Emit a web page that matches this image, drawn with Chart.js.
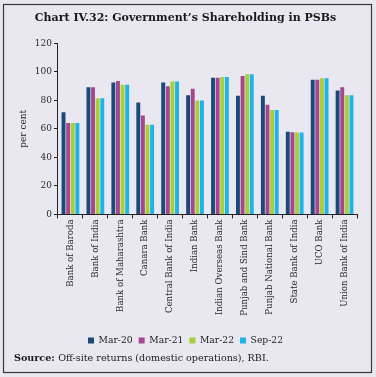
<!DOCTYPE html>
<html>
<head>
<meta charset="utf-8">
<script src="https://cdn.jsdelivr.net/npm/chart.js@4.4.1/dist/chart.umd.min.js"></script>
<style>
  html, body { margin: 0; padding: 0; background: #fff; }
  #wrap { width: 376px; height: 377px; }
</style>
</head>
<body>
<div id="wrap"><canvas id="psbChart" width="376" height="377"></canvas></div>
<script>
const banks = ['Bank of Baroda', 'Bank of India', 'Bank of Maharashtra', 'Canara Bank',
  'Central Bank of India', 'Indian Bank', 'Indian Overseas Bank', 'Punjab and Sind Bank',
  'Punjab National Bank', 'State Bank of India', 'UCO Bank', 'Union Bank of India'];
const mar20 = [71.6, 89.1, 92.5, 78.5, 92.4, 83.6, 95.8, 83.1, 83.2, 57.9, 94.4, 86.8];
const mar21 = [64.0, 89.1, 93.5, 69.3, 89.9, 88.1, 95.8, 97.1, 76.9, 57.6, 94.4, 89.1];
const mar22 = [64.0, 81.4, 90.9, 62.9, 93.1, 79.9, 96.4, 98.3, 73.2, 57.5, 95.4, 83.5];
const sep22 = [64.0, 81.4, 90.9, 62.9, 93.1, 79.9, 96.4, 98.3, 73.2, 57.5, 95.4, 83.5];
const seriesNames = ['Mar-20', 'Mar-21', 'Mar-22', 'Sep-22'];
const seriesColors = ['#1b4a78', '#a5468e', '#a6cf38', '#1eb3ea'];
const yTicks = [0, 20, 40, 60, 80, 100, 120];

const serif = '"DejaVu Serif", "Liberation Serif", serif';

// background, frame and the source note
const framePlugin = {
  id: 'frame',
  beforeDraw(chart) {
    const ctx = chart.ctx;
    ctx.save();
    ctx.fillStyle = '#e9e7ef';
    ctx.fillRect(0, 0, chart.width, chart.height);
    ctx.restore();
  },
  afterDraw(chart) {
    const ctx = chart.ctx;
    ctx.save();
    ctx.strokeStyle = '#3a3a3a';
    ctx.lineWidth = 1.2;
    ctx.strokeRect(3.5, 4.5, 368, 368);
    ctx.fillStyle = '#1a1a1a';
    ctx.font = 'bold 9.6px ' + serif;
    ctx.textBaseline = 'middle';
    const label = 'Source:';
    ctx.fillText(label, 14, 358);
    const w = ctx.measureText(label + ' ').width;
    ctx.font = '9.6px ' + serif;
    ctx.fillText('Off-site returns (domestic operations), RBI.', 14 + w, 358);
    ctx.restore();
  }
};

new Chart(document.getElementById('psbChart'), {
  type: 'bar',
  data: {
    labels: banks,
    datasets: [mar20, mar21, mar22, sep22].map((d, i) => ({
      label: seriesNames[i],
      data: d,
      backgroundColor: seriesColors[i],
      barPercentage: 0.85,
      categoryPercentage: 0.74
    }))
  },
  options: {
    responsive: false,
    animation: false,
    layout: { padding: { left: 14, right: 19, top: 2, bottom: 22 } },
    scales: {
      x: {
        grid: { display: true, drawOnChartArea: false, drawTicks: true, tickLength: 4, tickColor: '#222', offset: true },
        border: { display: true, color: '#222', width: 1 },
        afterFit: (scale) => { scale.height += 13; },
        ticks: {
          color: '#2a2a2a',
          font: { family: serif, size: 8.6 },
          minRotation: 90,
          maxRotation: 90,
          autoSkip: false,
          padding: 1
        }
      },
      y: {
        min: 0,
        max: 120,
        afterBuildTicks: (axis) => { axis.ticks = yTicks.map(v => ({ value: v })); },
        grid: { display: true, drawOnChartArea: false, drawTicks: true, tickLength: 4, tickColor: '#222' },
        border: { display: true, color: '#222', width: 1 },
        ticks: { color: '#2a2a2a', font: { family: serif, size: 9 }, padding: 2 },
        title: { display: true, text: 'per cent', color: '#2a2a2a', font: { family: serif, size: 9 }, padding: 4 }
      }
    },
    plugins: {
      title: {
        display: true,
        text: 'Chart IV.32: Government\u2019s Shareholding in PSBs',
        color: '#1a1a1a',
        font: { family: serif, size: 11, weight: 'bold' },
        padding: { top: 10, bottom: 18 }
      },
      legend: {
        position: 'bottom',
        labels: {
          boxWidth: 6,
          boxHeight: 6,
          padding: 6,
          color: '#222',
          font: { family: serif, size: 9.2 }
        }
      },
      tooltip: { enabled: false }
    }
  },
  plugins: [framePlugin]
});
</script>
</body>
</html>
